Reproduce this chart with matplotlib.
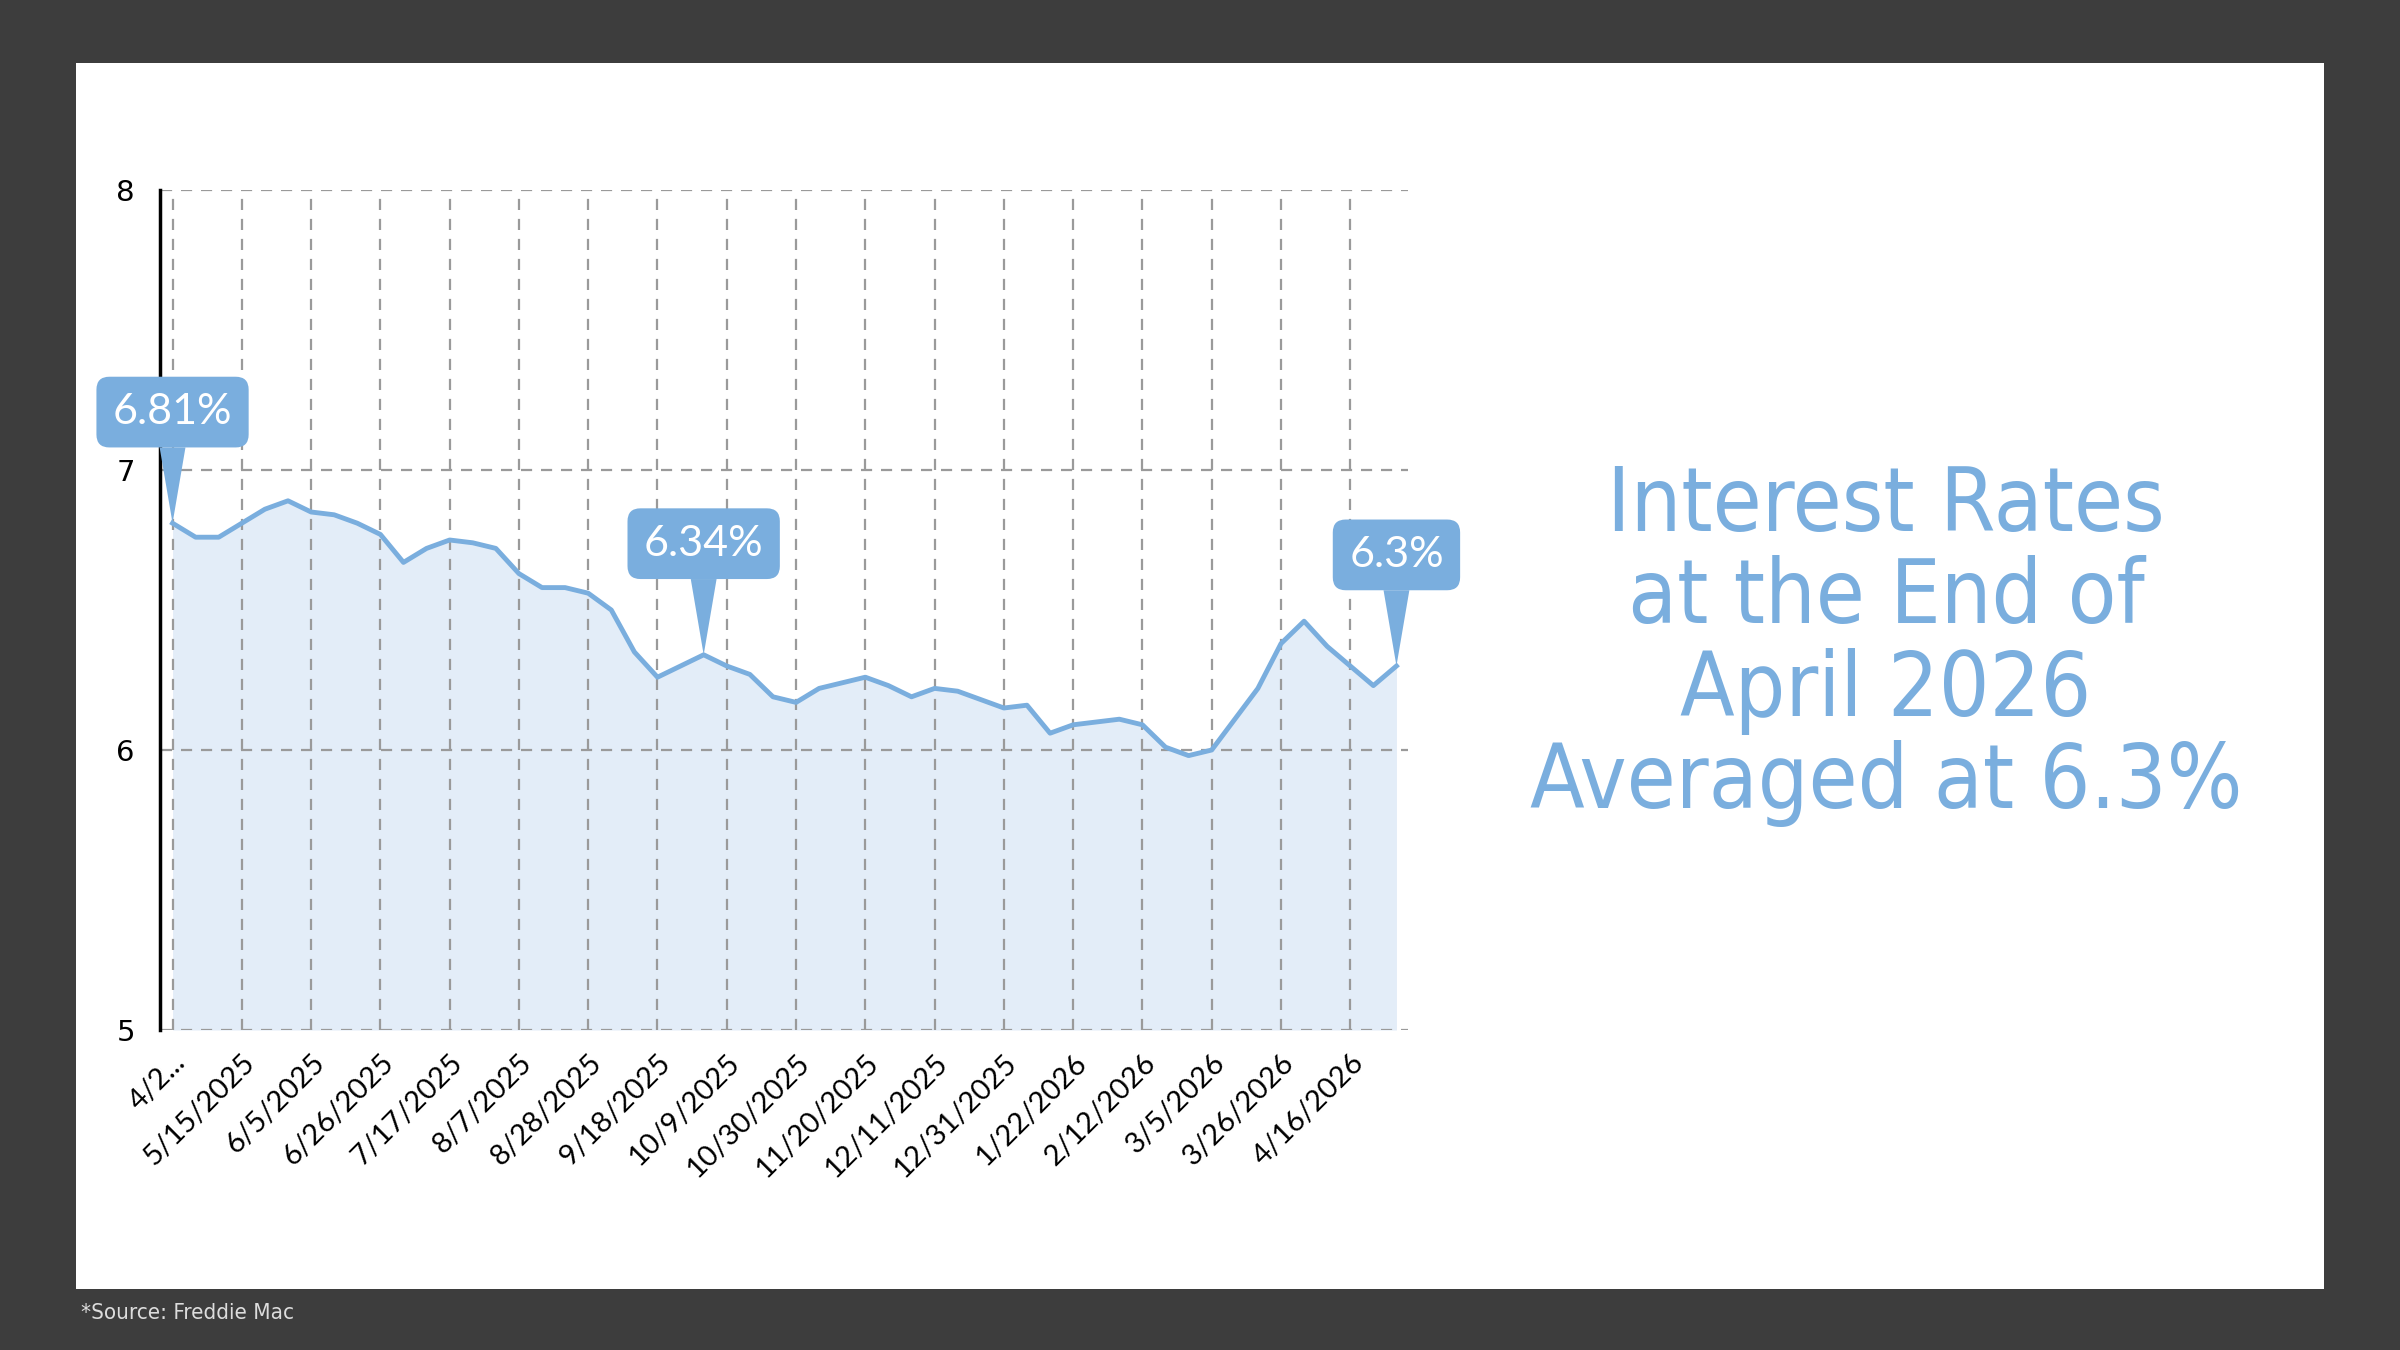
import matplotlib.pyplot as plt
from matplotlib.patches import Rectangle
import numpy as np

# weekly rates, 4/24/2025 .. 4/30/2026
dates = ["4/24/2025", "5/1/2025", "5/8/2025", "5/15/2025", "5/22/2025", "5/29/2025",
         "6/5/2025", "6/12/2025", "6/19/2025", "6/26/2025", "7/3/2025", "7/10/2025",
         "7/17/2025", "7/24/2025", "7/31/2025", "8/7/2025", "8/14/2025", "8/21/2025",
         "8/28/2025", "9/4/2025", "9/11/2025", "9/18/2025", "9/25/2025", "10/2/2025",
         "10/9/2025", "10/16/2025", "10/23/2025", "10/30/2025", "11/6/2025", "11/13/2025",
         "11/20/2025", "11/27/2025", "12/4/2025", "12/11/2025", "12/18/2025", "12/25/2025",
         "12/31/2025", "1/8/2026", "1/15/2026", "1/22/2026", "1/29/2026", "2/5/2026",
         "2/12/2026", "2/19/2026", "2/26/2026", "3/5/2026", "3/12/2026", "3/19/2026",
         "3/26/2026", "4/2/2026", "4/9/2026", "4/16/2026", "4/23/2026", "4/30/2026"]
rates = [6.81, 6.76, 6.76, 6.81, 6.86, 6.89, 6.85, 6.84, 6.81, 6.77, 6.67, 6.72,
         6.75, 6.74, 6.72, 6.63, 6.58, 6.58, 6.56, 6.50, 6.35, 6.26, 6.30, 6.34,
         6.30, 6.27, 6.19, 6.17, 6.22, 6.24, 6.26, 6.23, 6.19, 6.22, 6.21, 6.18,
         6.15, 6.16, 6.06, 6.09, 6.10, 6.11, 6.09, 6.01, 5.98, 6.00, 6.11, 6.22,
         6.38, 6.46, 6.37, 6.30, 6.23, 6.30]
callouts = [(0, "6.81%"), (23, "6.34%"), (53, "6.3%")]
title = "Interest Rates\nat the End of\nApril 2026\nAveraged at 6.3%"

blue = "#7aaede"
narrow = ["Liberation Sans Narrow", "DejaVu Sans"]
fig = plt.figure(figsize=(24, 13.5), dpi=100)
fig.patch.set_facecolor("#3d3d3d")
fig.patches.append(Rectangle((76/2400, 1 - 1289/1350), (2324-76)/2400, (1289-63)/1350,
                             transform=fig.transFigure, facecolor="white", edgecolor="none",
                             zorder=-10))

ax = fig.add_axes([161/2400, 1 - 1030/1350, (1408-161)/2400, (1030-190)/1350])
ax.set_facecolor("none")
x = np.arange(len(rates))
ax.fill_between(x, 5, rates, color="#e3edf8", lw=0)
ax.plot(x, rates, color=blue, lw=3.5)
ax.set_xlim(-0.5, len(rates) - 1 + 0.5)
ax.set_ylim(5, 8)
ax.set_yticks([5, 6, 7, 8])
ticks = list(range(0, len(rates), 3))
ax.set_xticks(ticks)
labels = [dates[i] for i in ticks]
labels[0] = "4/2..."
ax.set_xticklabels(labels, rotation=45, ha="right", rotation_mode="anchor",
                   fontsize=21, family="Lato")
ax.tick_params(axis="y", labelsize=21, length=0, pad=18)
ax.tick_params(axis="x", length=0, pad=14)
for lbl in ax.get_yticklabels():
    lbl.set_family("Lato")
ax.grid(True, color="#9a9a9a", linestyle=(0, (5, 4)), lw=1.6)
for s in ["top", "right", "bottom"]:
    ax.spines[s].set_visible(False)
ax.spines["left"].set_linewidth(2.5)
ax.spines["left"].set_position(("data", -0.55))

for i, txt in callouts:
    ax.annotate(txt, xy=(i, rates[i]), xytext=(0, 80), textcoords="offset points",
                ha="center", va="center", fontsize=31, color="white", family="Lato",
                bbox=dict(boxstyle="round,pad=0.38,rounding_size=0.3", fc=blue, ec="none"),
                arrowprops=dict(arrowstyle="wedge,tail_width=0.6", fc=blue, ec="none",
                                shrinkA=0, shrinkB=0), zorder=5)

fig.text(1886/2400, 1 - 645/1350, title, ha="center", va="center", color=blue,
         fontsize=64, family=narrow, stretch="condensed", linespacing=1.08)
fig.text(81/2400, 1 - 1313/1350, "*Source: Freddie Mac", ha="left", va="center",
         color="#dddddd", fontsize=16, family=narrow, stretch="condensed")

fig.savefig("out.png", dpi=100, facecolor=fig.get_facecolor())
